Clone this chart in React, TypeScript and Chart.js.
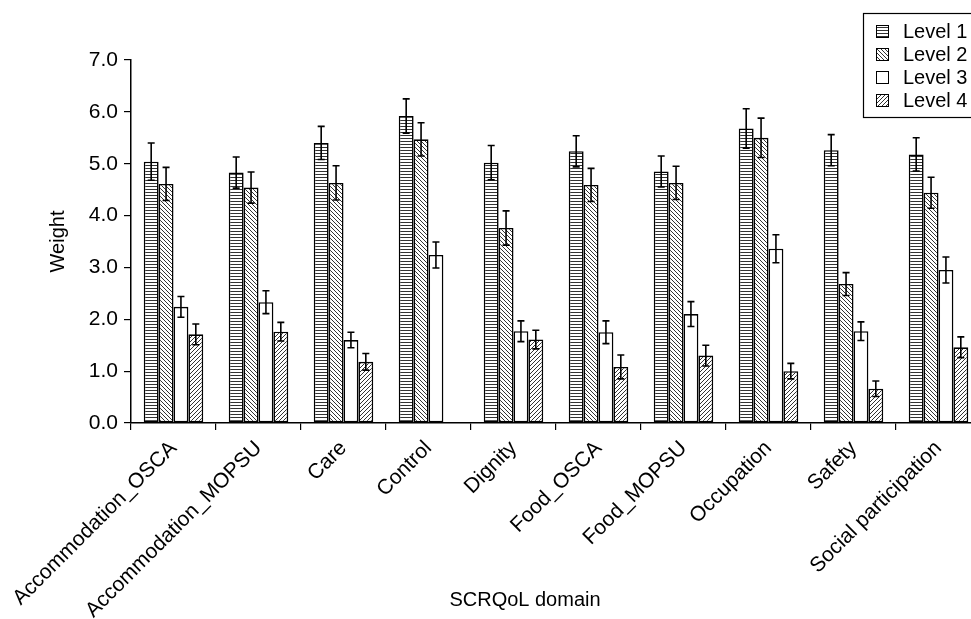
import React, { useEffect, useRef } from "react";
import { Chart, registerables } from "chart.js";

Chart.register(...registerables);

const categories = [
  "Accommodation_OSCA",
  "Accommodation_MOPSU",
  "Care",
  "Control",
  "Dignity",
  "Food_OSCA",
  "Food_MOPSU",
  "Occupation",
  "Safety",
  "Social participation",
];

const seriesLabels = ["Level 1", "Level 2", "Level 3", "Level 4"];

const level1 = [5.04, 4.83, 5.4, 5.92, 5.02, 5.24, 4.85, 5.68, 5.26, 5.18];
const level1Err = [0.36, 0.3, 0.32, 0.33, 0.33, 0.3, 0.3, 0.38, 0.3, 0.32];
const level2 = [4.61, 4.54, 4.63, 5.47, 3.76, 4.59, 4.63, 5.5, 2.68, 4.44];
const level2Err = [0.32, 0.3, 0.33, 0.32, 0.33, 0.32, 0.32, 0.38, 0.22, 0.3];
const level3 = [2.24, 2.33, 1.6, 3.24, 1.77, 1.75, 2.1, 3.36, 1.77, 2.95];
const level3Err = [0.2, 0.22, 0.15, 0.25, 0.2, 0.22, 0.24, 0.27, 0.18, 0.25];
const level4 = [1.71, 1.76, 1.18, null, 1.61, 1.08, 1.3, 1.0, 0.66, 1.46];
const level4Err = [0.2, 0.18, 0.16, null, 0.18, 0.23, 0.2, 0.15, 0.15, 0.2];

const yTicks = [0, 1, 2, 3, 4, 5, 6, 7];
const xTitle = "SCRQoL domain";
const yTitle = "Weight";

const FONT = '"Liberation Sans", Arial, Helvetica, sans-serif';

function makePattern(kind: string): CanvasPattern | string {
  const c = document.createElement("canvas");
  c.width = 4;
  c.height = kind === "h" ? 3 : 4;
  const g = c.getContext("2d");
  if (!g) return "#fff";
  g.fillStyle = "#fff";
  g.fillRect(0, 0, c.width, c.height);
  if (kind === "none") return "#fff";
  g.fillStyle = "#333";
  if (kind === "h") {
    g.fillRect(0, 0, 4, 1);
  } else if (kind === "back") {
    for (let i = 0; i < 4; i++) g.fillRect(i, i, 1, 1);
  } else if (kind === "fwd") {
    for (let i = 0; i < 4; i++) g.fillRect(3 - i, i, 1, 1);
  }
  const p = g.createPattern(c, "repeat");
  return p || "#fff";
}

export default function App() {
  const ref = useRef<HTMLCanvasElement | null>(null);

  useEffect(() => {
    if (!ref.current) return;
    const fills = [makePattern("h"), makePattern("back"), makePattern("none"), makePattern("fwd")];
    const values = [level1, level2, level3, level4];
    const errors = [level1Err, level2Err, level3Err, level4Err];

    const errorBars = {
      id: "errorBars",
      afterDatasetsDraw(chart: any) {
        const ctx = chart.ctx;
        const ys = chart.scales.y;
        ctx.save();
        ctx.strokeStyle = "#000";
        ctx.lineWidth = 1.6;
        chart.data.datasets.forEach((ds: any, i: number) => {
          const meta = chart.getDatasetMeta(i);
          meta.data.forEach((bar: any, j: number) => {
            const v = values[i][j];
            const e = errors[i][j];
            if (v == null || e == null) return;
            const x = bar.x;
            const y1 = ys.getPixelForValue(v + e);
            const y2 = ys.getPixelForValue(v - e);
            ctx.beginPath();
            ctx.moveTo(x, y1);
            ctx.lineTo(x, y2);
            ctx.moveTo(x - 3.5, y1);
            ctx.lineTo(x + 3.5, y1);
            ctx.moveTo(x - 3.5, y2);
            ctx.lineTo(x + 3.5, y2);
            ctx.stroke();
          });
        });
        ctx.restore();
      },
    };

    const customText = {
      id: "customText",
      afterDraw(chart: any) {
        const ctx = chart.ctx;
        ctx.save();
        // x-axis title
        ctx.fillStyle = "#000";
        ctx.font = `20px ${FONT}`;
        ctx.textAlign = "center";
        ctx.textBaseline = "middle";
        ctx.fillText(xTitle, 525, 600);
        // legend
        const lx = 863.5;
        const ly = 13.5;
        ctx.strokeStyle = "#000";
        ctx.lineWidth = 1.2;
        ctx.strokeRect(lx, ly, 200, 104);
        chart.data.datasets.forEach((ds: any, i: number) => {
          const cy = 31 + i * 23;
          ctx.fillStyle = ds.backgroundColor;
          ctx.fillRect(876, cy - 6, 12, 12);
          ctx.lineWidth = 1;
          ctx.strokeRect(876.5, cy - 5.5, 12, 12);
          ctx.fillStyle = "#000";
          ctx.textAlign = "left";
          ctx.textBaseline = "middle";
          ctx.fillText(ds.label, 903, cy + 1);
        });
        ctx.restore();
      },
    };

    const chart = new Chart(ref.current, {
      type: "bar",
      data: {
        labels: categories,
        datasets: seriesLabels.map((label, i) => ({
          label,
          data: values[i] as any,
          backgroundColor: fills[i] as any,
          borderColor: "#000",
          borderWidth: 1.6,
          borderSkipped: false,
          categoryPercentage: 0.7,
          barPercentage: 1.0,
        })),
      },
      options: {
        animation: false,
        responsive: false,
        devicePixelRatio: 1,
        layout: { padding: { left: 0, right: 9, top: 60, bottom: 0 } },
        plugins: {
          legend: { display: false },
          tooltip: { enabled: false },
        },
        scales: {
          x: {
            offset: true,
            grid: {
              display: true,
              drawOnChartArea: false,
              drawTicks: true,
              tickLength: 7,
              offset: true,
              color: "#000",
              lineWidth: 1.2,
            },
            border: { display: true, color: "#000", width: 1.5 },
            ticks: {
              autoSkip: false,
              minRotation: 45,
              maxRotation: 45,
              padding: 6,
              color: "#000",
              font: { family: FONT, size: 21 },
            },
            afterFit(scale: any) {
              scale.height = 196;
            },
          },
          y: {
            min: 0,
            max: 7,
            afterBuildTicks(scale: any) {
              scale.ticks = yTicks.map((v) => ({ value: v }));
            },
            grid: {
              display: true,
              drawOnChartArea: false,
              drawTicks: true,
              tickLength: 7,
              color: "#000",
              lineWidth: 1.2,
            },
            border: { display: true, color: "#000", width: 1.5 },
            ticks: {
              padding: 6,
              color: "#000",
              font: { family: FONT, size: 21 },
              callback: (v: any) => Number(v).toFixed(1),
            },
            title: {
              display: true,
              text: yTitle,
              color: "#000",
              font: { family: FONT, size: 20 },
              padding: { top: 46, bottom: 4 },
            },
            afterFit(scale: any) {
              scale.width = 131;
            },
          },
        },
      },
      plugins: [errorBars, customText],
    });
    return () => chart.destroy();
  }, []);

  return (
    <div
      style={{
        position: "fixed",
        left: 0,
        top: 0,
        width: 971,
        height: 619,
        overflow: "hidden",
        background: "#fff",
      }}
    >
      <canvas ref={ref} width={990} height={619} style={{ width: 990, height: 619, display: "block" }} />
    </div>
  );
}
